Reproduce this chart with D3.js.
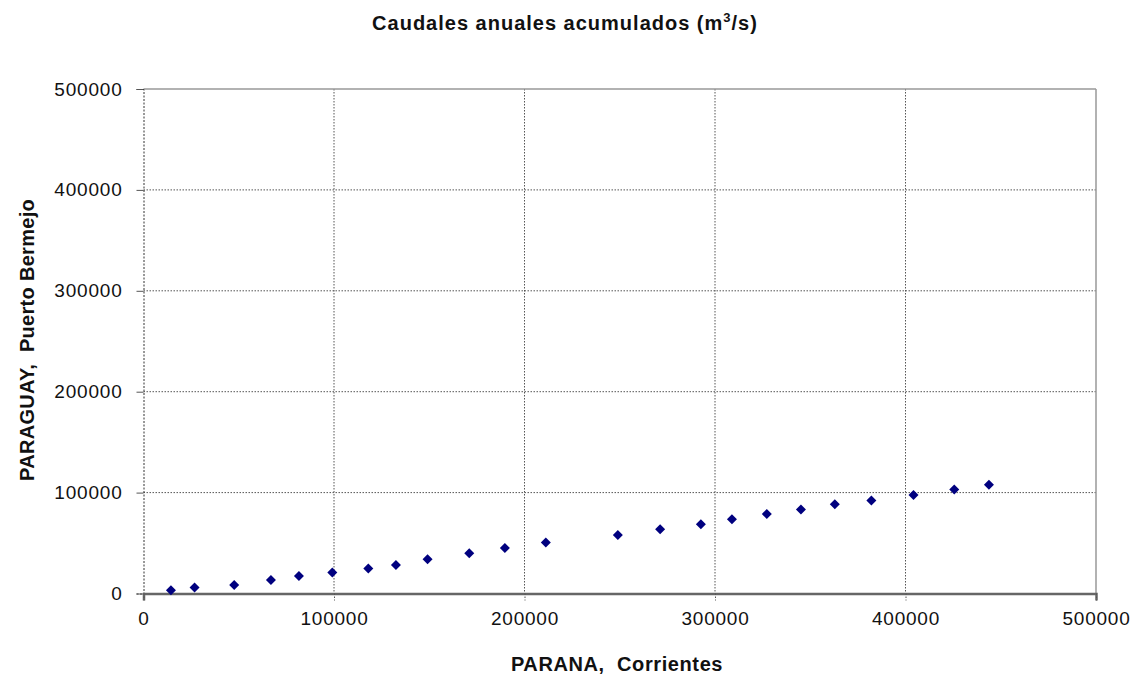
<!DOCTYPE html>
<html><head><meta charset="utf-8">
<script src="https://cdn.jsdelivr.net/npm/d3@7/dist/d3.min.js"></script>
<style>body{margin:0;background:#fff}svg{display:block}text{font-family:"Liberation Sans",Arial,sans-serif}</style>
</head><body>
<svg id="c" width="1139" height="675"></svg>
<script>
const title = "Caudales anuales acumulados (m";
const xLabel = "PARANA,\u00A0 Corrientes";
const yLabel = "PARAGUAY,\u00A0 Puerto Bermejo";
const xTicks = [0,100000,200000,300000,400000,500000];
const yTicks = [0,100000,200000,300000,400000,500000];
const parana = [14400,26800,47600,66900,81600,99100,118000,132500,149100,171000,189700,211200,249000,271200,292600,308900,327200,345100,362900,382100,404200,425600,443800];
const paraguay = [3300,5900,8500,13500,17400,20800,24700,28300,34000,39900,45100,50500,58000,63700,68600,73600,78800,83200,88400,92100,97600,103000,107900];

const svg = d3.select("#c");
const L=143.5, R=1096, T=89, B=593.5;
const x = d3.scaleLinear().domain([0,500000]).range([L,R]);
const y = d3.scaleLinear().domain([0,500000]).range([B,T]);

// gridlines
const g = svg.append("g");
g.selectAll("line.gx").data(xTicks.slice(1,-1)).join("line")
 .attr("x1",d=>x(d)).attr("x2",d=>x(d)).attr("y1",T).attr("y2",B)
 .attr("stroke","#555").attr("stroke-dasharray","1.5,1.5").attr("stroke-width",1);
g.selectAll("line.gy").data(yTicks.slice(1,-1)).join("line")
 .attr("y1",d=>y(d)).attr("y2",d=>y(d)).attr("x1",L).attr("x2",R)
 .attr("stroke","#555").attr("stroke-dasharray","1.5,1.5").attr("stroke-width",1);
// border
svg.append("line").attr("x1",L).attr("x2",R).attr("y1",T).attr("y2",T).attr("stroke","#999").attr("stroke-width",1.5);
svg.append("line").attr("x1",R).attr("x2",R).attr("y1",T).attr("y2",B).attr("stroke","#999").attr("stroke-width",1.5);

// axes
const ya = d3.axisLeft(y).tickValues(yTicks).tickFormat(d3.format("d")).tickSize(7).tickPadding(14);
const yg = svg.append("g").attr("transform",`translate(${L},0)`).call(ya);
yg.select(".domain").attr("stroke","#333").attr("stroke-dasharray","2,1.5");
yg.selectAll(".tick line").attr("stroke","#555");
yg.selectAll("text").attr("font-size",19).attr("letter-spacing",0.8).attr("fill","#111");

const xa = d3.axisBottom(x).tickValues(xTicks).tickFormat(d3.format("d")).tickSize(7).tickPadding(11);
const xg = svg.append("g").attr("transform",`translate(0,${B})`).call(xa);
xg.select(".domain").attr("stroke","#666").attr("stroke-width",2.5);
xg.selectAll(".tick line").attr("stroke","#555").attr("stroke-dasharray","1.5,1.5");
xg.selectAll("text").attr("font-size",19).attr("letter-spacing",0.8).attr("fill","#111");

// points: square diamonds
const diamond = "M0,-5L5,0L0,5L-5,0Z";
svg.append("g").selectAll("path").data(parana).join("path")
 .attr("d",diamond)
 .attr("transform",(d,i)=>`translate(${x(d)},${y(paraguay[i])})`)
 .attr("fill","#00007f");

// title
const t = svg.append("text").attr("x",565).attr("y",30).attr("text-anchor","middle")
 .attr("font-size",20).attr("letter-spacing",1).attr("font-weight","bold").attr("fill","#111");
t.append("tspan").text(title);
t.append("tspan").attr("font-size",13).attr("dy",-8).text("3");
t.append("tspan").attr("dy",8).text("/s)");

svg.append("text").attr("x",617).attr("y",671).attr("text-anchor","middle")
 .attr("font-size",20).attr("letter-spacing",0.6).attr("font-weight","bold").attr("fill","#111").text(xLabel);
svg.append("text").attr("transform","translate(34,340) rotate(-90)").attr("text-anchor","middle")
 .attr("font-size",20).attr("letter-spacing",0.3).attr("font-weight","bold").attr("fill","#111").text(yLabel);
</script>
</body></html>
